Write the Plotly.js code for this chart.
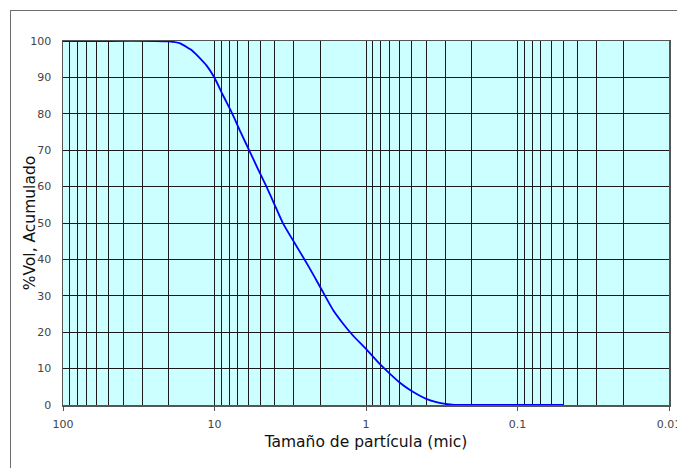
<!DOCTYPE html>
<html>
<head>
<meta charset="utf-8">
<script src="https://cdn.plot.ly/plotly-3.0.1.min.js"></script>
<style>
  html, body { margin: 0; padding: 0; background: #fff; overflow: hidden; }
  #wrap { position: relative; width: 677px; height: 468px; }
  #chart { position: absolute; left: 0; top: 0; width: 677px; height: 468px; }
  #frame { position: absolute; left: 10px; top: 10px; width: 700px; height: 500px;
           border-left: 1px solid #6e6e6e; border-top: 1px solid #6e6e6e; pointer-events: none; }
</style>
</head>
<body>
<div id="wrap">
  <div id="chart"></div>
  <div id="frame"></div>
</div>
<script>
// Particle size (microns) and cumulative volume (%)
const particleSize = [100, 50, 25, 20, 17, 13.9, 11.3, 10, 8.79, 7.62, 6.7, 5.86, 5.2, 4.54, 4.01, 3.53, 2.96, 2.54, 2.2, 1.97, 1.65, 1.42, 1.22, 1.0, 0.8, 0.7, 0.6, 0.515, 0.447, 0.4, 0.343, 0.3, 0.26, 0.2, 0.1, 0.05];
const cumulativeVol = [100, 100, 100, 99.9, 99.4, 97.2, 93.3, 89.9, 85.1, 80.0, 74.8, 69.7, 65.1, 60.0, 55.0, 49.9, 44.5, 39.9, 35.4, 31.8, 26.1, 22.4, 19.1, 15.4, 11.0, 8.7, 6.2, 4.2, 2.7, 1.7, 0.8, 0.3, 0.05, 0, 0, 0];

const xTickVals = [100, 10, 1, 0.1, 0.01];
const xTickText = ['100', '10', '1', '0.1', '0.01'];
const yTickVals = [0, 10, 20, 30, 40, 50, 60, 70, 80, 90, 100];

const xTitle = 'Tamaño de partícula (mic)';
const yTitle = '%Vol, Acumulado';

const trace = {
  x: particleSize,
  y: cumulativeVol,
  type: 'scatter',
  mode: 'lines',
  line: { color: '#0000FF', width: 1.8, shape: 'spline', smoothing: 0.5 },
  hoverinfo: 'skip',
  cliponaxis: true
};

const fontFam = 'DejaVu Sans, Verdana, sans-serif';

const layout = {
  width: 677,
  height: 468,
  margin: { l: 63, r: 8, t: 41, b: 63 },
  paper_bgcolor: 'rgba(0,0,0,0)',
  plot_bgcolor: '#CCFFFF',
  showlegend: false,
  font: { family: fontFam, size: 11, color: '#333' },
  xaxis: {
    type: 'log',
    range: [2, -2],
    tickvals: xTickVals,
    ticktext: xTickText,
    ticks: 'outside',
    ticklen: 4,
    tickcolor: '#555',
    ticklabelstandoff: 4,
    ticklabeloverflow: 'allow',
    showgrid: true,
    gridcolor: '#1a1a1a',
    gridwidth: 1,
    minor: { showgrid: true, gridcolor: '#1a1a1a', gridwidth: 1, dtick: 'D1', ticks: '' },
    showline: true,
    linecolor: '#555',
    linewidth: 1.5,
    mirror: true,
    zeroline: false,
    automargin: false,
    tickfont: { family: fontFam, size: 11, color: '#444' },
    title: { text: xTitle, standoff: 6, font: { family: fontFam, size: 15.5, color: '#111' } }
  },
  yaxis: {
    range: [0, 100],
    tickvals: yTickVals,
    ticks: '',
    ticklabelstandoff: 8,
    showgrid: true,
    gridcolor: '#1a1a1a',
    gridwidth: 1,
    showline: true,
    linecolor: '#555',
    linewidth: 1.5,
    mirror: true,
    zeroline: false,
    automargin: false,
    tickfont: { family: fontFam, size: 11, color: '#444' }
  },
  annotations: [{
    text: yTitle,
    xref: 'paper', yref: 'paper',
    x: -0.054, y: 0.5,
    xanchor: 'center', yanchor: 'middle',
    textangle: -90,
    showarrow: false,
    font: { family: fontFam, size: 15.5, color: '#111' }
  }]
};

Plotly.newPlot('chart', [trace], layout, { staticPlot: true, displayModeBar: false });
</script>
</body>
</html>
